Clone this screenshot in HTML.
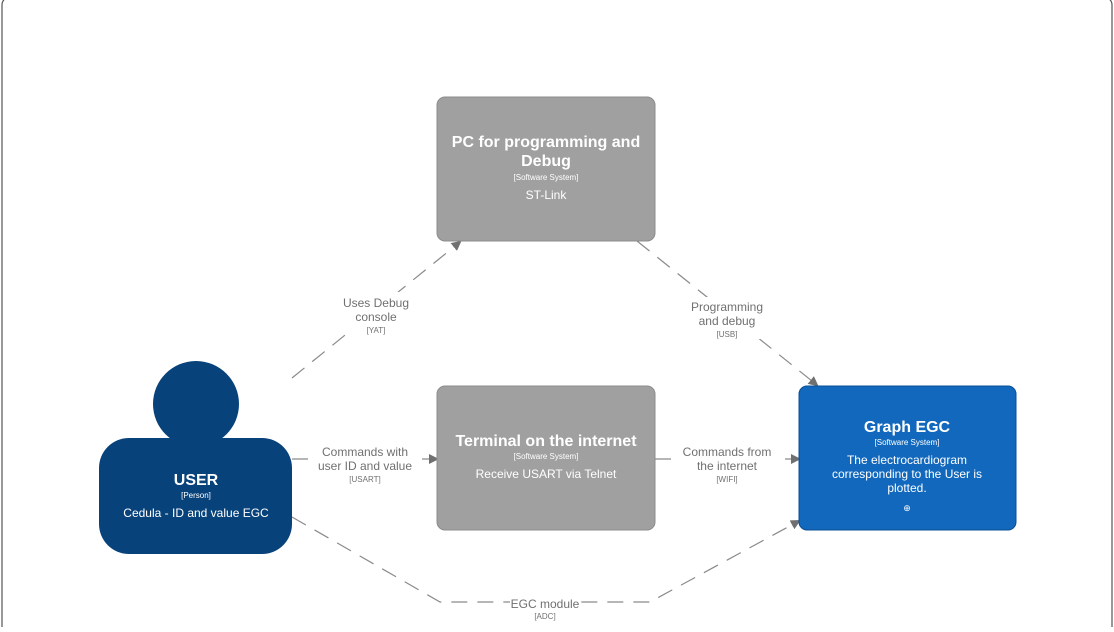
<!DOCTYPE html>
<html><head><meta charset="utf-8"><style>
body{margin:0;width:1114px;height:627px;overflow:hidden;background:#fff;font-family:"Liberation Sans",sans-serif}
svg text{font-family:"Liberation Sans",sans-serif}
</style></head><body>
<svg width="1114" height="627" viewBox="0 0 1114 627">
<defs><marker id="a" markerWidth="10" markerHeight="10" refX="8" refY="5" orient="auto" markerUnits="userSpaceOnUse"><path d="M0,0 L10,5 L0,10 z" fill="#707070"/></marker></defs>
<rect x="2" y="-3" width="1110" height="650" rx="8" fill="none" stroke="#555" stroke-width="1.2"/>
<g stroke="#8a8a8a" stroke-width="1.2" fill="none" stroke-dasharray="16,10">
<path d="M292,378 L460,242" marker-end="url(#a)"/>
<path d="M637,241 L817,385" marker-end="url(#a)"/>
<path d="M292,459 L437,459" marker-end="url(#a)"/>
<path d="M655,459 L799,459" marker-end="url(#a)"/>
<path d="M292,517 L440,602 L650,602 L799,521" marker-end="url(#a)"/>
</g>
<g fill="#fff">
<rect x="340" y="292" width="72" height="38"/><rect x="686" y="297" width="82" height="42"/>
<rect x="316" y="443" width="98" height="42"/><rect x="678" y="443" width="98" height="42"/>
<rect x="510" y="595" width="70" height="26"/>
</g>
<g fill="#707070" text-anchor="middle" font-size="12">
<text x="376" y="307">Uses Debug</text><text x="376" y="321">console</text><text x="376" y="333" font-size="8">[YAT]</text>
<text x="727" y="311">Programming</text><text x="727" y="325">and debug</text><text x="727" y="337" font-size="8">[USB]</text>
<text x="365" y="456">Commands with</text><text x="365" y="470">user ID and value</text><text x="365" y="482" font-size="8">[USART]</text>
<text x="727" y="456">Commands from</text><text x="727" y="470">the internet</text><text x="727" y="482" font-size="8">[WIFI]</text>
<text x="545" y="608">EGC module</text><text x="545" y="619" font-size="8">[ADC]</text>
</g>
<rect x="437" y="97" width="218" height="144" rx="8" fill="#a0a0a0" stroke="#8c8c8c"/>
<rect x="437" y="386" width="218" height="144" rx="8" fill="#a0a0a0" stroke="#8c8c8c"/>
<rect x="799" y="386" width="217" height="144" rx="8" fill="#1168bd" stroke="#0b4f94"/>
<rect x="99" y="438" width="193" height="116" rx="30" fill="#08427b"/>
<circle cx="196" cy="404" r="43" fill="#08427b"/>
<g fill="#fff" text-anchor="middle">
<text x="546" y="147" font-size="16" font-weight="bold">PC for programming and</text>
<text x="546" y="166" font-size="16" font-weight="bold">Debug</text>
<text x="546" y="180" font-size="8">[Software System]</text>
<text x="546" y="199" font-size="12">ST-Link</text>
<text x="546" y="446" font-size="16" font-weight="bold">Terminal on the internet</text>
<text x="546" y="459" font-size="8">[Software System]</text>
<text x="546" y="478" font-size="12">Receive USART via Telnet</text>
<text x="907" y="432" font-size="16" font-weight="bold">Graph EGC</text>
<text x="907" y="445" font-size="8">[Software System]</text>
<text x="907" y="464" font-size="12">The electrocardiogram</text>
<text x="907" y="478" font-size="12">corresponding to the User is</text>
<text x="907" y="492" font-size="12">plotted.</text>
<text x="907" y="511" font-size="9">⊕</text>
<text x="196" y="485" font-size="16" font-weight="bold">USER</text>
<text x="196" y="498" font-size="8">[Person]</text>
<text x="196" y="517" font-size="12">Cedula - ID and value EGC</text>
</g>
</svg>
</body></html>
